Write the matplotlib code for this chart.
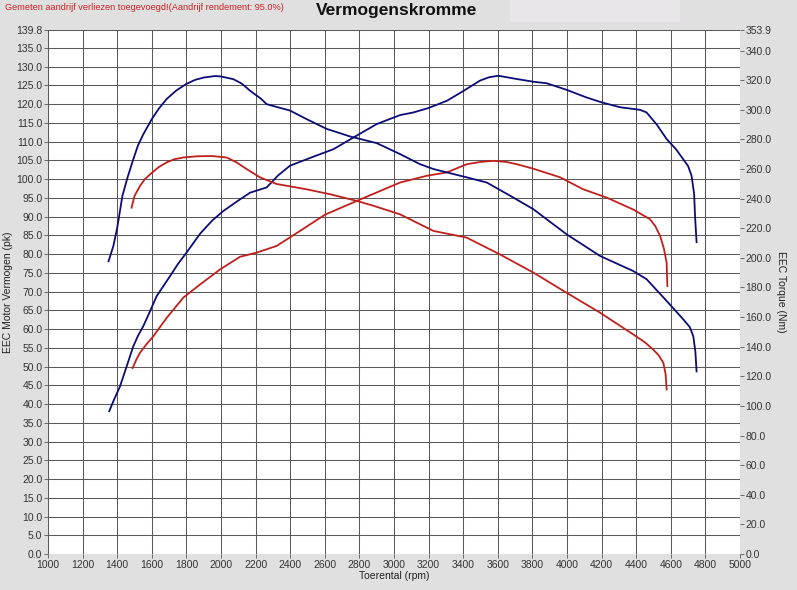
import matplotlib
matplotlib.use("Agg")
import matplotlib.pyplot as plt
from matplotlib.patches import Rectangle

plt.rcParams['font.family'] = ['Liberation Sans', 'DejaVu Sans']

# ---- data ----
# Blue power (pk)
bp_rpm = [1354, 1380, 1416, 1455, 1493, 1520, 1551, 1590, 1628, 1660, 1705, 1750, 1802, 1880,
          1950, 2013, 2100, 2168, 2264, 2330, 2399, 2534, 2650, 2765, 2900, 3035, 3112, 3200,
          3305, 3400, 3497, 3550, 3603, 3700, 3805, 3882, 4000, 4113, 4200, 4306, 4422, 4460,
          4520, 4576, 4630, 4672, 4700, 4720, 4735, 4740, 4749]
bp_val = [38.1, 41.0, 44.7, 50.1, 55.4, 58.2, 60.8, 64.8, 68.8, 71.0, 74.1, 77.3, 80.5, 85.5,
          89.0, 91.5, 94.3, 96.4, 97.8, 101.0, 103.6, 106.0, 108.0, 111.1, 114.7, 117.1, 117.8, 119.0,
          120.9, 123.5, 126.3, 127.2, 127.6, 126.8, 126.0, 125.6, 123.8, 121.8, 120.5, 119.2, 118.5, 117.8,
          114.5, 110.7, 108.0, 105.3, 103.5, 100.9, 96.0, 90.2, 83.2]

# Red power (pk)
rp_rpm = [1489, 1510, 1532, 1570, 1609, 1686, 1782, 1879, 1994, 2110, 2206, 2322, 2457, 2600,
          2800, 3035, 3189, 3305, 3421, 3500, 3574, 3650, 3709, 3805, 3960, 4094, 4229, 4383,
          4480, 4510, 4538, 4560, 4576, 4580]
rp_val = [49.6, 51.8, 53.7, 56.0, 58.1, 63.0, 68.4, 71.9, 75.9, 79.3, 80.4, 82.2, 86.2, 90.5,
          94.5, 99.1, 100.9, 101.8, 104.0, 104.6, 104.9, 104.6, 104.0, 102.8, 100.5, 97.3, 95.1, 91.9,
          89.3, 87.5, 84.9, 81.5, 77.7, 71.5]

# Blue torque (Nm)
bt_rpm = [1350, 1378, 1400, 1430, 1460, 1493, 1520, 1551, 1600, 1640, 1686, 1740, 1800, 1850,
          1900, 1965, 2000, 2071, 2120, 2168, 2200, 2230, 2264, 2320, 2399, 2495, 2611, 2746,
          2900, 3035, 3150, 3228, 3420, 3536, 3671, 3805, 3998, 4191, 4383, 4460, 4576, 4672,
          4710, 4730, 4742, 4749]
bt_val = [197.7, 208.1, 220.2, 241.8, 254.4, 266.6, 275.9, 283.5, 293.7, 300.7, 307.3, 312.9, 317.5, 320.2,
          321.8, 322.8, 322.5, 320.7, 317.7, 312.9, 310.1, 307.6, 303.8, 302.0, 299.5, 293.7, 287.1, 282.0,
          277.5, 270.1, 263.3, 260.0, 254.4, 250.9, 242.0, 232.9, 215.9, 201.3, 191.1, 185.6, 170.9, 158.5,
          153.2, 147.1, 136.7, 123.3]

# Red torque (Nm)
rt_rpm = [1483, 1500, 1532, 1560, 1590, 1640, 1686, 1730, 1783, 1860, 1946, 2033, 2090, 2148,
          2225, 2322, 2495, 2630, 2784, 2881, 3035, 3228, 3420, 3613, 3805, 3998, 4191, 4383,
          4450, 4499, 4530, 4557, 4570, 4576]
rt_val = [233.9, 241.8, 248.6, 253.2, 256.4, 261.3, 264.5, 266.6, 267.8, 268.6, 268.8, 267.8, 264.5, 260.0,
          254.4, 249.9, 246.3, 243.0, 238.5, 235.2, 229.4, 218.2, 213.7, 202.3, 190.1, 176.4, 163.0, 148.3,
          143.0, 138.0, 134.2, 129.1, 121.5, 111.1]

x_ticks = list(range(1000, 5001, 200))
left_ticks = [i * 5.0 for i in range(28)] + [139.8]
right_ticks = [i * 20.0 for i in range(18)] + [353.9]

BLUE = '#0c0c78'
RED = '#c0201c'
BG = '#e0e0e0'

fig = plt.figure(figsize=(7.97, 5.90), dpi=100, facecolor=BG)
ax = fig.add_axes([48/797, 1 - 554/590, (740-48)/797, (554-30)/590])
ax.set_facecolor('white')
ax.set_xlim(1000, 5000)
ax.set_ylim(0, 139.8)
ax.set_xticks(x_ticks)
ax.set_yticks(left_ticks)
ax.set_yticklabels([f"{v:.1f}" for v in left_ticks])
ax.grid(True, color='#5a5a5a', linewidth=0.75)
for s in ax.spines.values():
    s.set_visible(False)
ax.tick_params(axis='both', direction='out', length=3, width=0.6, color='#555555',
               labelsize=7.5, labelcolor='#333333', pad=1)

ax2 = ax.twinx()
ax2.set_ylim(0, 353.9)
ax2.set_yticks(right_ticks)
ax2.set_yticklabels([f"{v:.1f}" for v in right_ticks])
for s in ax2.spines.values():
    s.set_visible(False)
ax2.tick_params(axis='y', direction='out', length=3, width=0.6, color='#555555',
                labelsize=7.5, labelcolor='#333333', pad=1)

ax.plot(bp_rpm, bp_val, color=BLUE, lw=1.3, zorder=3, solid_joinstyle='round')
ax.plot(rp_rpm, rp_val, color=RED, lw=1.3, zorder=3, solid_joinstyle='round')
ax2.plot(bt_rpm, bt_val, color=BLUE, lw=1.3, zorder=3, solid_joinstyle='round')
ax2.plot(rt_rpm, rt_val, color=RED, lw=1.3, zorder=3, solid_joinstyle='round')

ax.set_xlabel('Toerental (rpm)', fontsize=7.5, color='#222222', labelpad=1)
ax.set_ylabel('EEC Motor Vermogen (pk)', fontsize=7.5, color='#222222', labelpad=2)
ax2.set_ylabel('EEC Torque (Nm)', fontsize=7.5, color='#222222', rotation=270, labelpad=10)

fig.patches.append(Rectangle((510/797, 1 - 22/590), 170/797, 22/590, transform=fig.transFigure,
                             facecolor='#e8e6e8', edgecolor='none', zorder=0))
fig.text(397/797, 1 - 11/590, 'Vermogenskromme', ha='center', va='center',
         fontsize=12.5, fontweight='bold', color='#111111')
fig.text(5/797, 1 - 7/590, 'Gemeten aandrijf verliezen toegevoegd!(Aandrijf rendement: 95.0%)',
         ha='left', va='center', fontsize=6.6, color='#d02020')

fig.savefig('out.png', dpi=100, facecolor=BG)
